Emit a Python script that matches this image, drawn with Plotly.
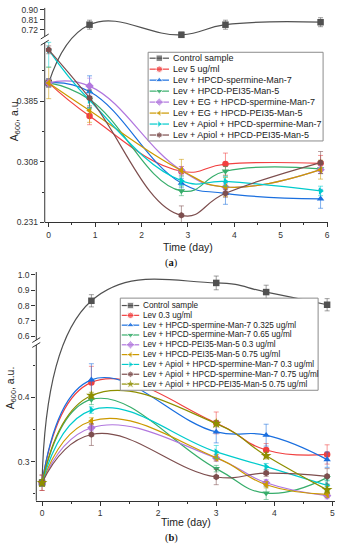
import numpy as np
import plotly.graph_objects as go

W, H = 340, 550

# ---------------- panel (a) data ----------------
days_a = [0, 0.88, 2.86, 3.81, 5.86]
names_a = ["Control sample", "Lev 5 ug/ml", "Lev + HPCD-spermine-Man-7",
           "Lev + HPCD-PEI35-Man-5", "Lev + EG + HPCD-spermine-Man-7",
           "Lev + EG + HPCD-PEI35-Man-5", "Lev + Apiol + HPCD-spermine-Man-7",
           "Lev + Apiol + HPCD-PEI35-Man-5"]
a_control = [0.408, 0.766, 0.676, 0.766, 0.788]
a_lev = [0.408, 0.366, 0.296, 0.305, 0.306]
a_sper = [0.408, 0.397, 0.281, 0.268, 0.261]
a_pei = [0.408, 0.387, 0.271, 0.296, 0.299]
a_eg_sper = [0.408, 0.404, 0.297, 0.276, 0.298]
a_eg_pei = [0.408, 0.373, 0.297, 0.276, 0.298]
a_api_sper = [0.450, 0.386, 0.284, 0.283, 0.271]
a_api_pei = [0.450, 0.389, 0.240, 0.268, 0.307]
a_control_err = [0.005, 0.04, 0.025, 0.04, 0.04]
a_lev_err = [0.005, 0.011, 0.006, 0.014, 0.010]
a_sper_err = [0.005, 0.020, 0.006, 0.014, 0.012]
a_pei_err = [0.005, 0.012, 0.006, 0.006, 0.006]
a_eg_sper_err = [0.005, 0.010, 0.005, 0.005, 0.005]
a_eg_pei_err = [0.020, 0.015, 0.014, 0.012, 0.012]
a_api_sper_err = [0.022, 0.010, 0.006, 0.006, 0.006]
a_api_pei_err = [0.005, 0.010, 0.012, 0.005, 0.014]
a_ticks = [0.231, 0.308, 0.385, 0.72, 0.81, 0.90]
a_ticktext = ["0.231", "0.308", "0.385", "0.72", "0.81", "0.90"]
a_minor = [0.2695, 0.3465, 0.4235]

# ---------------- panel (b) data ----------------
days_b = [0, 0.85, 3.0, 3.86, 4.91]
names_b = ["Control sample", "Lev 0.3 ug/ml",
           "Lev + HPCD-spermine-Man-7 0.325 ug/ml",
           "Lev + HPCD-spermine-Man-7 0.65 ug/ml",
           "Lev + HPCD-PEI35-Man-5 0.3 ug/ml",
           "Lev + HPCD-PEI35-Man-5 0.75 ug/ml",
           "Lev + Apiol + HPCD-spermine-Man-7 0.3 ug/ml",
           "Lev + Apiol + HPCD-spermine-Man-7 0.75 ug/ml",
           "Lev + Apiol + HPCD-PEI35-Man-5 0.75 ug/ml"]
b_control = [0.267, 0.831, 0.948, 0.888, 0.805]
b_lev = [0.267, 0.423, 0.360, 0.318, 0.311]
b_sper0325 = [0.267, 0.427, 0.346, 0.341, 0.303]
b_sper065 = [0.267, 0.3965, 0.289, 0.251, 0.275]
b_pei03 = [0.267, 0.3525, 0.3055, 0.267, 0.247]
b_pei075 = [0.267, 0.363, 0.306, 0.264, 0.249]
b_api_sper03 = [0.267, 0.380, 0.315, 0.292, 0.263]
b_api_sper075 = [0.267, 0.342, 0.276, 0.282, 0.277]
b_api_pei075 = [0.267, 0.4026, 0.359, 0.309, 0.256]
b_control_err = [0.012, 0.04, 0.045, 0.045, 0.04]
b_lev_err = [0.012, 0.025, 0.017, 0.010, 0.015]
b_sper0325_err = [0.005, 0.025, 0.017, 0.017, 0.012]
b_sper065_err = [0.005, 0.008, 0.005, 0.010, 0.005]
b_pei03_err = [0.005, 0.005, 0.005, 0.005, 0.005]
b_pei075_err = [0.005, 0.005, 0.005, 0.005, 0.005]
b_api_sper03_err = [0.005, 0.005, 0.010, 0.005, 0.008]
b_api_sper075_err = [0.005, 0.017, 0.012, 0.005, 0.012]
b_api_pei075_err = [0.005, 0.005, 0.005, 0.005, 0.005]
b_ticks = [0.3, 0.4, 0.6, 0.7, 0.8, 0.9, 1.0]
b_ticktext = ["0.3", "0.4", "0.6", "0.7", "0.8", "0.9", "1.0"]
b_minor = [0.25, 0.35, 0.45]

x_ticks_a = [0, 1, 2, 3, 4, 5, 6]
x_ticks_b = [0, 1, 2, 3, 4, 5]

series_a = [a_control, a_lev, a_sper, a_pei, a_eg_sper, a_eg_pei, a_api_sper, a_api_pei]
errs_a = [a_control_err, a_lev_err, a_sper_err, a_pei_err, a_eg_sper_err,
          a_eg_pei_err, a_api_sper_err, a_api_pei_err]
series_b = [b_control, b_lev, b_sper0325, b_sper065, b_pei03, b_pei075,
            b_api_sper03, b_api_sper075, b_api_pei075]
errs_b = [b_control_err, b_lev_err, b_sper0325_err, b_sper065_err, b_pei03_err,
          b_pei075_err, b_api_sper03_err, b_api_sper075_err, b_api_pei075_err]

# ---------------- styles ----------------
COLORS = ["#515151", "#F14040", "#1A6FDF", "#37AD6B", "#B177DE",
          "#CC9900", "#00CBCC", "#7D4E4E", "#8E8E00"]
COLORS_A = COLORS[:8]
SYMBOLS = ["square", "circle", "triangle-up", "triangle-down", "diamond",
           "triangle-left", "triangle-right", "hexagon", "star"]
FONT = "Arial, Liberation Sans, sans-serif"
AXC = "#333333"


def rgba(hexc, a):
    h = hexc.lstrip("#")
    return "rgba(%d,%d,%d,%.2f)" % (int(h[0:2], 16), int(h[2:4], 16), int(h[4:6], 16), a)


# broken-axis mapping (value -> display units, 1 unit = 1 px)
A_MAP_V = [0.2, 0.459, 0.661, 1.0]
A_MAP_D = [-24.8, 182.4, 188.7, 227.4]
B_MAP_V = [0.2, 0.4812, 0.574, 1.1]
B_MAP_D = [-25.6, 158.0, 163.0, 244.5]


def map_a(v):
    return np.interp(np.asarray(v, float), A_MAP_V, A_MAP_D)


def map_b(v):
    return np.interp(np.asarray(v, float), B_MAP_V, B_MAP_D)


# pixel geometry of the two panels
A_LEFT, A_RIGHT, A_BOT, A_TOP = 45, 330, 222.7, 5.0
B_LEFT, B_RIGHT, B_BOT, B_TOP = 36.5, 337, 505.0, 273.0
A_XR = [-0.0857, 6.0214]
B_XR = [-0.0993, 5.046]

fig = go.Figure()


def add_panel(days, series, errs, colors, mapper, xa, ya):
    for i, (vals, err) in enumerate(zip(series, errs)):
        v = np.array(vals)
        e = np.array(err)
        d = mapper(v)
        up = mapper(v + e) - d
        dn = d - mapper(v - e)
        fig.add_trace(go.Scatter(
            x=days, y=d, mode="lines+markers", xaxis=xa, yaxis=ya,
            line=dict(color=colors[i], width=1.2, shape="spline", smoothing=1.3),
            marker=dict(symbol=SYMBOLS[i], size=6.5 if SYMBOLS[i] != "star" else 8,
                        color=colors[i]),
            error_y=dict(type="data", symmetric=False, array=up, arrayminus=dn,
                         color=rgba(colors[i], 0.55), thickness=1, width=2.5),
            cliponaxis=False, showlegend=False))


add_panel(days_a, series_a, errs_a, COLORS_A, map_a, "x", "y")
add_panel(days_b, series_b, errs_b, COLORS, map_b, "x2", "y2")


# ---------------- legends (drawn on a pixel overlay axis) ----------------
def add_legend(names, colors, box, y0, step, lx0, lx1, tx, fsize):
    bx0, by0, bx1, by1 = box
    fig.add_trace(go.Scatter(x=[bx0, bx1, bx1, bx0, bx0], y=[by0, by0, by1, by1, by0],
                             mode="lines", fill="toself", fillcolor="white",
                             line=dict(color="#8c8c8c", width=1),
                             xaxis="x3", yaxis="y3", showlegend=False))
    for i, name in enumerate(names):
        yy = y0 + step * i
        fig.add_trace(go.Scatter(
            x=[lx0, (lx0 + lx1) / 2, lx1], y=[yy, yy, yy], mode="lines+markers",
            line=dict(color=colors[i], width=1.2),
            marker=dict(symbol=SYMBOLS[i], size=[0, 6.5 if SYMBOLS[i] != "star" else 8, 0],
                        color=colors[i]),
            xaxis="x3", yaxis="y3", showlegend=False))
        fig.add_annotation(x=tx, y=yy, xref="x3", yref="y3", text=name, showarrow=False,
                           xanchor="left", yanchor="middle",
                           font=dict(family=FONT, size=fsize, color="#222"))


add_legend(names_a, COLORS_A, (149, 50, 325, 140), 56, 11.14, 150.5, 170, 172, 9)
add_legend(names_b, COLORS, (121, 299.5, 320, 393), 307, 9.96, 122.5, 140, 142, 8.2)

# ---------------- broken y axis lines ----------------
shapes = []


def axis_break(left, bot, mapper, lo_top_v, up_bot_v, top):
    y_lo_top = bot - float(mapper(lo_top_v))
    y_up_bot = bot - float(mapper(up_bot_v))
    line = dict(color=AXC, width=1)
    shapes.append(dict(type="line", xref="x3", yref="y3", x0=left, x1=left,
                       y0=bot, y1=y_lo_top, line=line))
    shapes.append(dict(type="line", xref="x3", yref="y3", x0=left, x1=left,
                       y0=y_up_bot, y1=top, line=line))
    for yb in (y_lo_top, y_up_bot):
        shapes.append(dict(type="line", xref="x3", yref="y3", x0=left - 4, x1=left + 4,
                           y0=yb + 2.5, y1=yb - 2.5, line=line))


axis_break(A_LEFT, A_BOT, map_a, A_MAP_V[1], A_MAP_V[2], A_TOP)
axis_break(B_LEFT, B_BOT, map_b, B_MAP_V[1], B_MAP_V[2], B_TOP)

tickfont = dict(family=FONT, size=8.5, color="#333")


def xaxis(dom, rng, ticks, anchor):
    return dict(domain=dom, range=rng, anchor=anchor, tickvals=ticks,
                showline=True, linecolor=AXC, linewidth=1, ticks="outside", ticklen=4,
                tickcolor=AXC, tickwidth=1, showgrid=False, zeroline=False,
                tickfont=tickfont,
                minor=dict(tickvals=[t + 0.5 for t in ticks[:-1]], ticklen=2,
                           tickcolor=AXC, ticks="outside", showgrid=False))


def yaxis(dom, rng, tv, tt, minor, anchor):
    return dict(domain=dom, range=rng, anchor=anchor, tickvals=tv, ticktext=tt,
                showline=False, ticks="outside", ticklen=4, tickcolor=AXC, tickwidth=1,
                showgrid=False, zeroline=False, tickfont=tickfont,
                minor=dict(tickvals=minor, ticklen=2, tickcolor=AXC, ticks="outside",
                           showgrid=False))


fig.update_layout(
    width=W, height=H, margin=dict(l=0, r=0, t=0, b=0),
    paper_bgcolor="white", plot_bgcolor="rgba(0,0,0,0)", showlegend=False,
    xaxis=xaxis([A_LEFT / W, A_RIGHT / W], A_XR, x_ticks_a, "y"),
    yaxis=yaxis([1 - A_BOT / H, 1 - A_TOP / H], [0, A_BOT - A_TOP],
                list(map_a(a_ticks)), a_ticktext, list(map_a(a_minor)), "x"),
    xaxis2=xaxis([B_LEFT / W, B_RIGHT / W], B_XR, x_ticks_b, "y2"),
    yaxis2=yaxis([1 - B_BOT / H, 1 - B_TOP / H], [0, B_BOT - B_TOP],
                 list(map_b(b_ticks)), b_ticktext, list(map_b(b_minor)), "x2"),
    xaxis3=dict(domain=[0, 1], range=[0, W], visible=False, anchor="y3", fixedrange=True),
    yaxis3=dict(domain=[0, 1], range=[H, 0], visible=False, anchor="x3", fixedrange=True),
    shapes=shapes,
)

# axis titles and captions
ann_font = dict(family=FONT, size=10.5, color="#222")
fig.add_annotation(x=189, y=247.3, xref="x3", yref="y3", text="Time (day)", showarrow=False,
                   font=ann_font)
fig.add_annotation(x=187, y=526.7, xref="x3", yref="y3", text="Time (day)", showarrow=False,
                   font=ann_font)
fig.add_annotation(x=15, y=118, xref="x3", yref="y3", text="A<sub>600</sub>, a.u.",
                   showarrow=False, textangle=-90, font=ann_font)
fig.add_annotation(x=11, y=390, xref="x3", yref="y3", text="A<sub>600</sub>, a.u.",
                   showarrow=False, textangle=-90, font=ann_font)
cap_font = dict(family="Liberation Serif, Times New Roman, serif", size=10.5, color="#111")
fig.add_annotation(x=173, y=264.3, xref="x3", yref="y3", text="(<b>a</b>)", showarrow=False,
                   font=cap_font)
fig.add_annotation(x=173, y=542.7, xref="x3", yref="y3", text="(<b>b</b>)", showarrow=False,
                   font=cap_font)

fig.write_html("out.html", config={"displayModeBar": False},
               post_script="document.body.style.margin='0';document.body.style.overflow='hidden';")
